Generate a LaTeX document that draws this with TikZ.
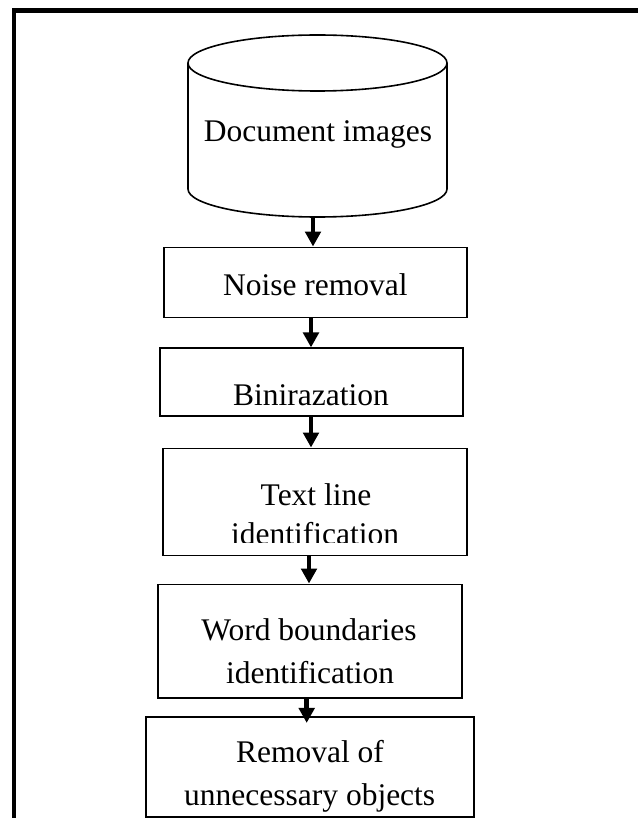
\documentclass[tikz,border=0pt]{standalone}
\usepackage{fontspec}
\setmainfont{Liberation Serif}
\usetikzlibrary{arrows.meta}
\begin{document}
\begin{tikzpicture}[x=1pt,y=-1pt,
  stage/.style={draw, line width=1.6pt, rectangle, inner sep=0pt},
  label/.style={anchor=base, inner sep=0pt, font=\fontsize{31.5}{38}\selectfont},
  flow/.style={line width=4.6pt, -{Triangle[width=15.5pt,length=15pt]}}]
\useasboundingbox (0,0) rectangle (637,818);

% frame: top and left rules only
\draw[line width=4.8pt, line join=miter] (645,10.4) -- (14,10.4) -- (14,830);

% database cylinder
\draw[line width=1.6pt] (188,63) -- (188,189)
  arc[start angle=180, end angle=360, x radius=129.5pt, y radius=28pt] -- (447,63);
\draw[line width=1.6pt] (317.5,63) ellipse[x radius=129.5pt, y radius=28pt];
\coordinate (db) at (313,217);
\node[label] (dbT) at (318,142) {Document images};

% processing stages
\node[stage, minimum width=303pt, minimum height=70pt] (noise) at (315.5,282.3) {};
\node[label] (noiseT) at (315.4,295) {Noise removal};

\node[stage, minimum width=303pt, minimum height=68pt] (binir) at (311.5,382.2) {};
\node[label] (binirT) at (311,405) {Binirazation};

\node[stage, minimum width=304pt, minimum height=107pt] (tline) at (315,501.8) {};
\node[label] (tlineA) at (316,505) {Text line};
\begin{scope}
  \clip (160,440) rectangle (470,542);
  \node[label] (tlineB) at (315,544) {identification};
\end{scope}

\node[stage, minimum width=304pt, minimum height=113.4pt] (word) at (310,641) {};
\node[label] (wordA) at (309,640) {Word boundaries};
\node[label] (wordB) at (310,683) {identification};

\node[stage, minimum width=328.3pt, minimum height=100pt] (remov) at (309.9,766.7) {};
\node[label] (removA) at (310,762) {Removal of};
\node[label] (removB) at (309.7,805) {unnecessary objects};

% connectors
\draw[flow] (db) -- ([xshift=-2.5pt]noise.north);
\draw[flow] ([xshift=-4.5pt]noise.south) -- ([xshift=-0.5pt]binir.north);
\draw[flow] ([xshift=-0.5pt]binir.south) -- ([xshift=-4pt]tline.north);
\draw[flow] ([xshift=-6pt]tline.south) -- ([xshift=-1pt]word.north);
\draw[flow, shorten >=-7pt] ([xshift=-3.3pt]word.south) -- ([xshift=-3.2pt]remov.north);
\end{tikzpicture}
\end{document}
